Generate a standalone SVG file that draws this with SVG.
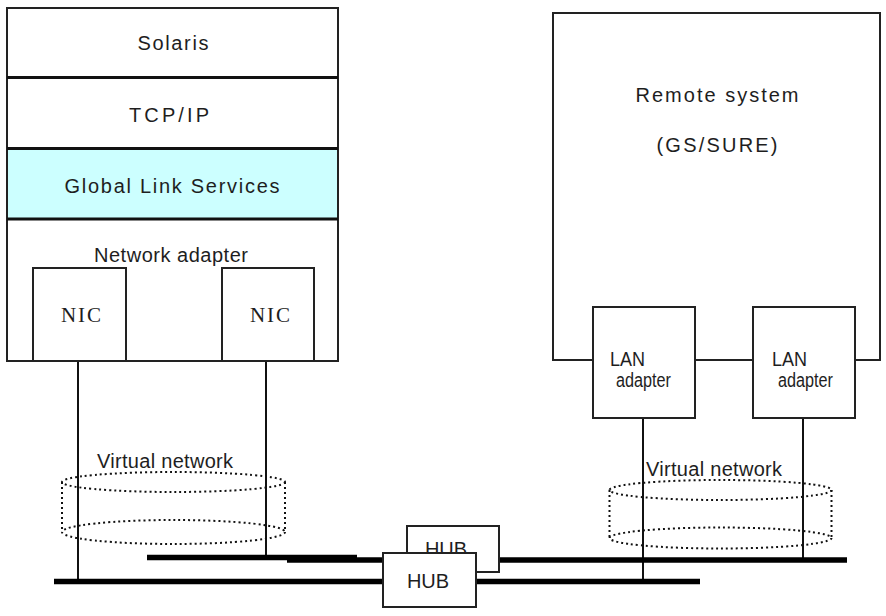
<svg xmlns="http://www.w3.org/2000/svg" width="886" height="616" viewBox="0 0 886 616">
<style>
  .box { fill: #fff; stroke: #222; stroke-width: 2; }
  .sep { stroke: #111; stroke-width: 3; fill: none; }
  .t { font-family: "Liberation Sans", Arial, sans-serif; font-size: 20px; fill: #1e1e1e; text-anchor: middle; }
  .s { font-family: "Liberation Serif", "Times New Roman", serif; font-size: 21px; fill: #1e1e1e; text-anchor: middle; }
  .small { font-family: "Liberation Sans", Arial, sans-serif; font-size: 20px; fill: #1e1e1e; }
  .wire { stroke: #111; stroke-width: 2; fill: none; }
  .bus { stroke: #000; stroke-width: 5.5; fill: none; }
  .dot { stroke: #111; stroke-width: 2; fill: none; stroke-dasharray: 2 3; }
</style>
<rect width="886" height="616" fill="#fff"/>

<g id="connectors">
  <line class="wire" x1="78" y1="361" x2="78" y2="581"/>
  <line class="wire" x1="266" y1="361" x2="266" y2="558"/>
  <line class="wire" x1="643" y1="418" x2="643" y2="581"/>
  <line class="wire" x1="803" y1="418" x2="803" y2="560"/>
  <line class="bus" x1="54" y1="581.5" x2="700" y2="581.5"/>
  <line class="bus" x1="147" y1="557.5" x2="357" y2="557.5"/>
  <line class="bus" x1="287" y1="560" x2="847" y2="560"/>
</g>

<g id="local-system">
  <rect class="box" x="7" y="8" width="331" height="353"/>
  <rect x="8" y="149" width="329" height="69" fill="#ccffff"/>
  <line class="sep" x1="7" y1="77.5" x2="338" y2="77.5"/>
  <line class="sep" x1="7" y1="148.5" x2="338" y2="148.5"/>
  <line class="sep" x1="7" y1="219" x2="338" y2="219"/>
  <text class="t" x="173" y="50" textLength="71" lengthAdjust="spacing">Solaris</text>
  <text class="t" x="169" y="122" textLength="80" lengthAdjust="spacing">TCP/IP</text>
  <text class="t" x="172" y="193" textLength="215" lengthAdjust="spacing">Global Link Services</text>
  <text class="t" x="171" y="262" textLength="154" lengthAdjust="spacing">Network adapter</text>
</g>

<g id="nic1">
  <rect class="box" x="33" y="268" width="93" height="93"/>
  <text class="s" x="81" y="322" textLength="40" lengthAdjust="spacing">NIC</text>
</g>
<g id="nic2">
  <rect class="box" x="222" y="268" width="92" height="93"/>
  <text class="s" x="270" y="322" textLength="40" lengthAdjust="spacing">NIC</text>
</g>

<g id="remote-system">
  <path d="M593 360 H553 V13 H880 V360 H855 M695 360 H753" fill="none" stroke="#222" stroke-width="2"/>
  <text class="t" x="717" y="102" textLength="163" lengthAdjust="spacing">Remote system</text>
  <text class="t" x="717" y="152" textLength="121" lengthAdjust="spacing">(GS/SURE)</text>
</g>

<g id="lan1">
  <rect class="box" x="593" y="307" width="102" height="111"/>
  <text class="small" x="610" y="366" textLength="35" lengthAdjust="spacingAndGlyphs">LAN</text>
  <text class="small" x="616" y="387" textLength="55" lengthAdjust="spacingAndGlyphs">adapter</text>
</g>
<g id="lan2">
  <rect class="box" x="753" y="307" width="102" height="111"/>
  <text class="small" x="772" y="366" textLength="35" lengthAdjust="spacingAndGlyphs">LAN</text>
  <text class="small" x="778" y="387" textLength="55" lengthAdjust="spacingAndGlyphs">adapter</text>
</g>

<g id="vnet1">
  <ellipse class="dot" cx="173.5" cy="482" rx="111.5" ry="10"/>
  <ellipse class="dot" cx="173.5" cy="532" rx="111.5" ry="12"/>
  <line class="dot" x1="62" y1="482" x2="62" y2="532"/>
  <line class="dot" x1="285" y1="482" x2="285" y2="532"/>
  <text class="t" x="165" y="468" textLength="136" lengthAdjust="spacing">Virtual network</text>
</g>
<g id="vnet2">
  <ellipse class="dot" cx="720.5" cy="490" rx="111" ry="10"/>
  <ellipse class="dot" cx="720.5" cy="538" rx="111" ry="10.5"/>
  <line class="dot" x1="609.5" y1="490" x2="609.5" y2="538"/>
  <line class="dot" x1="831.5" y1="490" x2="831.5" y2="538"/>
  <text class="t" x="714" y="476" textLength="136" lengthAdjust="spacing">Virtual network</text>
</g>

<g id="hub-upper">
  <rect class="box" x="407" y="526" width="92" height="46"/>
  <text class="t" x="446" y="556">HUB</text>
</g>
<g id="hub-lower">
  <rect class="box" x="383" y="553" width="93" height="54"/>
  <text class="t" x="428" y="588">HUB</text>
</g>
</svg>
